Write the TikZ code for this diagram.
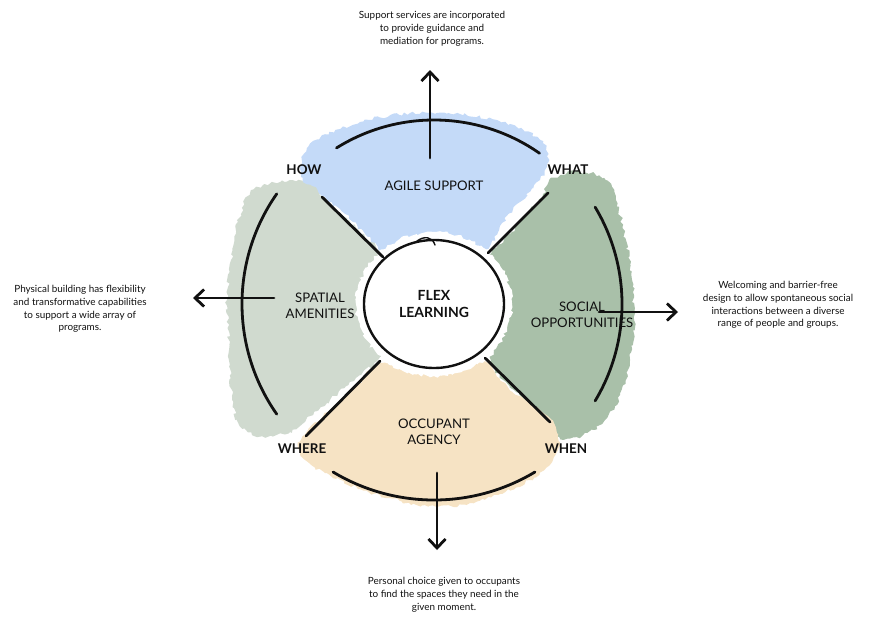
\documentclass[tikz,border=0pt]{standalone}
\usepackage{fontspec}
\setmainfont{Lato}
\usetikzlibrary{arrows.meta,decorations.pathmorphing,shapes.geometric}
\definecolor{blueblob}{HTML}{C4DAF8}
\definecolor{grayblob}{HTML}{D0DACF}
\definecolor{greenblob}{HTML}{A9C0A9}
\definecolor{beigeblob}{HTML}{F6E3C4}
\definecolor{ink}{HTML}{111111}
\tikzset{
  blob/.style={decorate, decoration={random steps, segment length=3pt, amplitude=1.8pt}},
  stroke/.style={line width=2.8pt, line cap=round, ink},
  arrowline/.style={stroke, -{Straight Barb[length=9pt, width=17pt]}},
  body/.style={align=center, text=ink, font=\fontsize{9.9}{12.8}\selectfont, inner sep=0pt},
  seglabel/.style={align=center, text=ink, font=\fontsize{13.2}{16.5}\selectfont, inner sep=0pt},
  corner/.style={text=ink, font=\fontsize{13.4}{14}\selectfont\bfseries, inner sep=0pt},
}
\begin{document}
\begin{tikzpicture}[x=1pt, y=-1pt]
\useasboundingbox (0,0) rectangle (874,634);
\coordinate (c) at (434,304);

% coloured blobs
\fill[blueblob, blob] plot[smooth cycle, tension=0.55] coordinates {
 (320,138) (360,122) (410,113) (460,114) (510,124) (540,140) (549,160)
 (540,180) (520,202) (500,226) (488,248) (465,242) (434,238) (402,242)
 (385,252) (365,234) (345,214) (322,196) (305,184) (301,165) (307,148)};
\fill[grayblob, blob] plot[smooth cycle, tension=0.55] coordinates {
 (262,186) (290,180) (312,186) (332,206) (356,228) (381,254) (370,272)
 (364,302) (368,334) (381,356) (356,378) (330,400) (306,420) (290,432)
 (262,436) (240,426) (232,396) (229,350) (227,300) (231,260) (238,222) (248,196)};
\fill[greenblob, blob] plot[smooth cycle, tension=0.55] coordinates {
 (550,180) (575,172) (604,178) (616,200) (626,240) (632,280) (634,320)
 (630,360) (620,395) (605,420) (582,436) (560,438) (546,422) (526,402)
 (506,382) (490,362) (500,340) (505,305) (500,270) (490,255) (510,234)
 (530,210) (543,194)};
\fill[beigeblob, blob] plot[smooth cycle, tension=0.55] coordinates {
 (378,364) (408,372) (434,374) (462,372) (485,362) (500,380) (520,396)
 (540,410) (555,426) (560,445) (552,462) (530,480) (500,494) (470,503)
 (437,507) (400,501) (360,489) (325,473) (304,459) (298,446) (308,430)
 (330,410) (355,388)};

% white halo round the centre
\fill[white, blob] (c) ellipse [x radius=78, y radius=72];

% diagonal separators
\coordinate (ulA) at (383,257); \coordinate (ulB) at (322,197);
\coordinate (llA) at (380,361); \coordinate (llB) at (306,436);
\coordinate (urA) at (488,253); \coordinate (urB) at (548,193);
\coordinate (lrA) at (485,358); \coordinate (lrB) at (550,422);
\draw[stroke] (ulA) -- (ulB);
\draw[stroke] (llA) -- (llB);
\draw[stroke] (urA) -- (urB);
\draw[stroke] (lrA) -- (lrB);

% outer arcs
\draw[stroke] ([shift={(-122:184)}]c) arc[start angle=-122, end angle=-55, radius=184];
\draw[stroke] ([shift={(-145:192)}]c) arc[start angle=-145, end angle=-215, radius=192];
\draw[stroke] ([shift={(-31:188)}]c) arc[start angle=-31, end angle=31, radius=188];
\draw[stroke] ([shift={(-239:196)}]c) arc[start angle=-239, end angle=-301, radius=196];

% arrows
\coordinate (topS) at (430,158); \coordinate (topE) at (430,70);
\coordinate (leftS) at (274,298); \coordinate (leftE) at (193,298);
\coordinate (rightS) at (599,312); \coordinate (rightE) at (678,312);
\coordinate (botS) at (437,473); \coordinate (botE) at (437,550);
\draw[arrowline] (topS) -- (topE);
\draw[arrowline] (leftS) -- (leftE);
\draw[arrowline] (rightS) -- (rightE);
\draw[arrowline] (botS) -- (botE);

% centre circle
\node[ellipse, draw=ink, line width=2.4pt, fill=white, minimum width=140pt, minimum height=128pt,
      inner sep=0pt, align=center, font=\fontsize{14}{17}\selectfont\bfseries, text=ink] (flex) at (c) {FLEX\\LEARNING};
\draw[ink, line width=1.4pt, line cap=round] (417,241) .. controls (424,236) and (432,236) .. (435,245);

% segment labels
\node[seglabel] (agile) at (434,186) {AGILE SUPPORT};
\node[seglabel] (spatial) at (320,306) {SPATIAL\\AMENITIES};
\node[seglabel] (social) at (582,315) {SOCIAL\\OPPORTUNITIES};
\node[seglabel] (occupant) at (434,432) {OCCUPANT\\AGENCY};

% corner labels
\node[corner] (how) at (304,170) {HOW};
\node[corner] (what) at (568,170) {WHAT};
\node[corner] (where) at (302,449) {WHERE};
\node[corner] (when) at (566,449) {WHEN};

% descriptions
\node[body] (dtop) at (432,29) {Support services are incorporated\\to provide guidance and\\mediation for programs.};
\node[body] (dleft) at (80,309) {Physical building has flexibility\\and transformative capabilities\\to support a wide array of\\programs.};
\node[body] (dright) at (778,305) {Welcoming and barrier-free\\design to allow spontaneous social\\interactions between a diverse\\range of people and groups.};
\node[body] (dbot) at (444,595) {Personal choice given to occupants\\to find the spaces they need in the\\given moment.};
\end{tikzpicture}
\end{document}
